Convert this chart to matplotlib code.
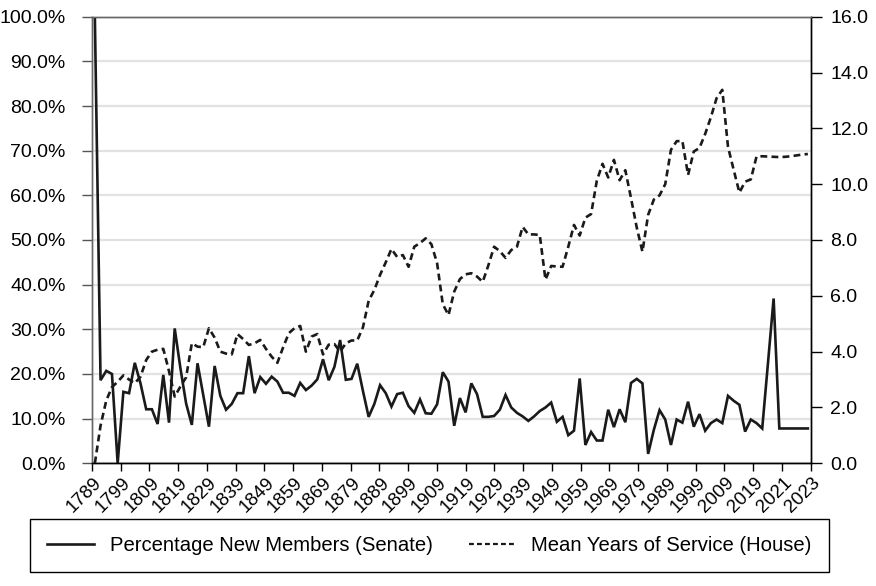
import numpy as np
import matplotlib
matplotlib.use("Agg")
import matplotlib.pyplot as plt
from matplotlib.lines import Line2D
import matplotlib.transforms as mtransforms

# ---- data (one value per Congress) ----
senate_pct = [100, 18.6, 20.7, 20.0, 0, 16.0, 15.7, 22.5, 17.9, 12.1,
              12.1, 8.8, 19.8, 9.1, 30.2, 21.3, 13.4, 8.6, 22.4, 15.3,
              8.2, 21.8, 15.1, 12.0, 13.3, 15.7, 15.7, 24.0, 15.7, 19.3,
              17.8, 19.4, 18.3, 15.8, 15.8, 15.1, 18.0, 16.4, 17.4, 18.8,
              23.3, 18.6, 21.6, 27.6, 18.7, 18.9, 22.3, 16.2, 10.4, 13.3,
              17.5, 15.7, 12.7, 15.5, 15.8, 12.8, 11.3, 14.3, 11.2, 11.1,
              13.2, 20.4, 18.3, 8.4, 14.6, 11.4, 17.9, 15.5, 10.4, 10.4,
              10.6, 12.0, 15.3, 12.5, 11.3, 10.5, 9.5, 10.5, 11.7, 12.5,
              13.6, 9.3, 10.4, 6.3, 7.3, 19.0, 4.1, 7.0, 5.1, 5.1,
              12.0, 8.1, 12.1, 9.2, 18.0, 18.9, 17.9, 2.1, 7.5, 11.9,
              9.8, 4.1, 9.8, 9.1, 13.8, 8.2, 11.0, 7.3, 9.0, 9.8,
              9.0, 15.1, 14.0, 13.1, 7.1, 9.8, 9.0, 7.8, 22.3, 36.9,
              7.8, 7.8, 7.8, 7.8, 7.8, 7.8]

house_years = [0.0, 1.35, 2.25, 2.73, 2.92, 3.15, 3.0, 2.87, 3.1, 3.7,
               4.0, 4.07, 4.1, 3.3, 2.39, 2.75, 3.08, 4.3, 4.18, 4.16,
               4.84, 4.5, 4.0, 3.93, 3.9, 4.63, 4.45, 4.24, 4.3, 4.42,
               4.1, 3.82, 3.6, 4.15, 4.66, 4.84, 4.92, 4.0, 4.54, 4.63,
               3.9, 4.25, 4.27, 4.0, 4.3, 4.4, 4.4, 4.87, 5.82, 6.21,
               6.75, 7.2, 7.68, 7.39, 7.46, 7.04, 7.76, 7.89, 8.06, 7.85,
               7.17, 5.7, 5.31, 6.15, 6.6, 6.77, 6.81, 6.69, 6.5, 7.1,
               7.76, 7.6, 7.36, 7.64, 7.76, 8.47, 8.2, 8.2, 8.18, 6.58,
               7.07, 7.05, 7.04, 7.76, 8.54, 8.16, 8.8, 8.93, 10.12, 10.73,
               10.24, 10.87, 10.14, 10.5, 9.5, 8.45, 7.58, 8.9, 9.45, 9.6,
               10.0, 11.23, 11.54, 11.55, 10.33, 11.17, 11.3, 11.8, 12.4, 13.08,
               13.38, 11.34, 10.51, 9.7, 10.09, 10.17, 10.99, 11.0, 10.99, 10.98,
               10.97, 10.98, 11.0, 11.03, 11.06, 11.08]

x_labels = ["1789", "1799", "1809", "1819", "1829", "1839", "1849", "1859",
            "1869", "1879", "1889", "1899", "1909", "1919", "1929", "1939",
            "1949", "1959", "1969", "1979", "1989", "1999", "2009", "2019",
            "2021", "2023"]
left_ticks = [0, 10, 20, 30, 40, 50, 60, 70, 80, 90, 100]
right_ticks = [0, 2, 4, 6, 8, 10, 12, 14, 16]
series_names = ["Percentage New Members (Senate)", "Mean Years of Service (House)"]

plt.rcParams["font.family"] = ["Liberation Sans", "DejaVu Sans"]
FS = 14
LINE_C = "#1a1a1a"
DASH = (0, (2.6, 1.6))

fig = plt.figure(figsize=(8.76, 5.86), dpi=100)
ax = fig.add_axes([92 / 876, (586 - 463.3) / 586, 718.7 / 876, 446.6 / 586])

n = len(senate_pct)
pos = np.arange(n) + 0.5

ax.grid(axis="y", color="#e2e2e2", lw=1.6)
ax.set_axisbelow(True)
ax.plot(pos, senate_pct, color=LINE_C, lw=1.9, solid_joinstyle="miter", zorder=3)
ax.set_xlim(0, n)
ax.set_ylim(0, 100)
ax.set_yticks(left_ticks)
ax.set_yticklabels([f"{v:.1f}%" for v in left_ticks], fontsize=FS)
ax.tick_params(axis="y", length=7, width=1, color="#555555", pad=12)

ax.set_xticks(np.linspace(0, n, len(x_labels)))
ax.set_xticklabels(x_labels, rotation=45, ha="right", va="top",
                   rotation_mode="anchor", fontsize=13.5)
ax.tick_params(axis="x", length=6, width=1, color="black", pad=2)
offset = mtransforms.ScaledTranslation(1 / 100, 0, fig.dpi_scale_trans)
for lab in ax.get_xticklabels():
    lab.set_transform(lab.get_transform() + offset)

ax2 = ax.twinx()
ax2.plot(pos, house_years, color=LINE_C, lw=1.9, ls=DASH, zorder=3)
ax2.set_ylim(0, 16)
ax2.set_yticks(right_ticks)
ax2.set_yticklabels([f"{v:.1f}" for v in right_ticks], fontsize=FS)
ax2.tick_params(axis="y", length=8, width=1, color="black", pad=6)

for a in (ax, ax2):
    a.spines["top"].set_color("#666666")
    a.spines["left"].set_color("#666666")
    a.spines["bottom"].set_color("black")
    a.spines["right"].set_color("black")
    for s in a.spines.values():
        s.set_linewidth(1.0)

handles = [Line2D([], [], color=LINE_C, lw=1.9),
           Line2D([], [], color=LINE_C, lw=1.6, ls=(0, (2.2, 1.4)))]
leg = fig.legend(handles, series_names, loc="center",
                 bbox_to_anchor=(30 / 876, (586 - 572) / 586, 799 / 876, 53 / 586),
                 mode="expand", ncol=2, frameon=True, fancybox=False,
                 edgecolor="black", framealpha=1, fontsize=14.6,
                 handlelength=2.3, handletextpad=0.8, columnspacing=1.0,
                 borderpad=0.85, borderaxespad=0)
leg.get_frame().set_linewidth(1.0)

fig.savefig("out.png", dpi=100)
